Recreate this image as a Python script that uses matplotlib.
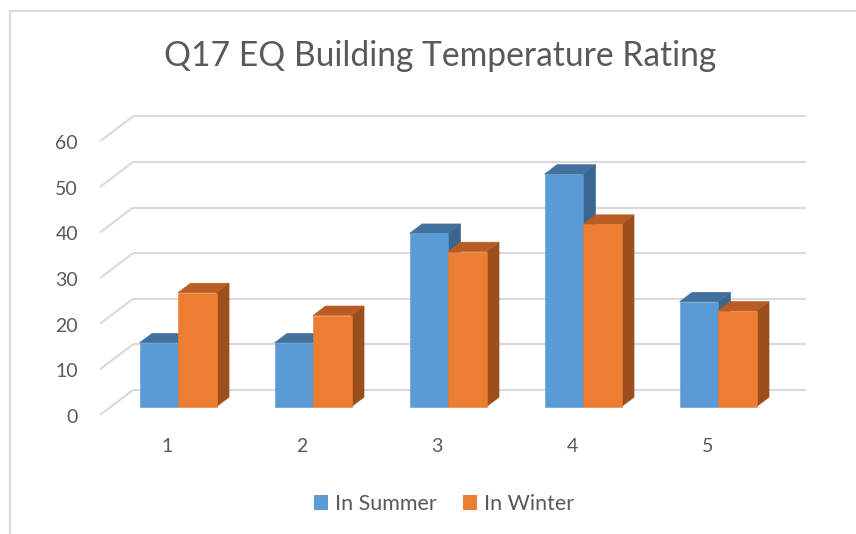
import matplotlib
matplotlib.use("Agg")
import matplotlib.pyplot as plt
from matplotlib.patches import Polygon, Patch
from matplotlib.lines import Line2D

# ---- data ----
categories = ["1", "2", "3", "4", "5"]
summer = [14, 14, 38, 51, 23]
winter = [25, 20, 34, 40, 21]
series_names = ["In Summer", "In Winter"]
y_ticks = [0, 10, 20, 30, 40, 50, 60]
title = "Q17 EQ Building Temperature Rating"

# ---- style ----
plt.rcParams['font.family'] = ['Lato', 'DejaVu Sans']
TXT = "#595959"
GRID = "#d9d9d9"
BLUE = ("#5b9bd5", "#41719c", "#3a6690")     # front, top, side
ORANGE = ("#ed7d31", "#b85c23", "#9a4f1d")

W, H = 856, 534
fig = plt.figure(figsize=(W / 100, H / 100), dpi=100)
ax = fig.add_axes([0, 0, 1, 1])
ax.axis('off')

# pixel layout of the pseudo-3D plot (bar plane)
CX0, CPX = 178.0, 135.0       # px of category 1 centre, px per category
VY0, VPX = 406.7, 4.56        # px of value 0 (bar plane), px per value unit


def px2c(x):
    return (x - CX0) / CPX + 1


def px2v(y):
    return (VY0 - y) / VPX


ax.set_xlim(px2c(0), px2c(W))
ax.set_ylim(px2v(H), px2v(0))

# depth vector (front to back) in data units
DX = 33.0 / CPX
DY = 25.0 / VPX
FRONT, BACK = -0.33, 0.67     # plane offsets relative to bar plane
BAR_D = 0.38                  # bar depth fraction
BW = 38.5 / CPX               # bar width

left_front = px2c(100)
right_back = px2c(806)

# gridlines: diagonal side wall line + back wall line
for v in y_ticks:
    x0, y0 = left_front, v + FRONT * DY
    x1, y1 = left_front + DX, v + BACK * DY
    ax.plot([x0, x1], [y0, y1], color=GRID, lw=1.5, solid_capstyle='butt', zorder=1)
    ax.plot([x1, right_back], [y1, y1], color=GRID, lw=1.5, solid_capstyle='butt', zorder=1)
    ax.text(px2c(78), v + FRONT * DY - 0.5, str(v), ha='right', va='center',
            fontsize=14, color=TXT)


def bar3d(x_left, h, cols, z):
    ddx, ddy = BAR_D * DX, BAR_D * DY
    front = [(x_left, 0), (x_left + BW, 0), (x_left + BW, h), (x_left, h)]
    top = [(x_left, h), (x_left + BW, h), (x_left + BW + ddx, h + ddy), (x_left + ddx, h + ddy)]
    side = [(x_left + BW, 0), (x_left + BW + ddx, ddy), (x_left + BW + ddx, h + ddy), (x_left + BW, h)]
    for pts, c in ((side, cols[2]), (top, cols[1]), (front, cols[0])):
        ax.add_patch(Polygon(pts, closed=True, facecolor=c, edgecolor=c, lw=0.4, zorder=z))


for i, (s, w) in enumerate(zip(summer, winter)):
    c = i + 1
    bar3d(c - BW, s, BLUE, 3)
    bar3d(c, w, ORANGE, 4)
    ax.text(c + FRONT * DX, px2v(447), categories[i], ha='center', va='center',
            fontsize=14, color=TXT)

# title
fig.text(440 / W, 1 - 56 / H, title, ha='center', va='center', fontsize=24.2, color=TXT)

# legend
handles = [Patch(facecolor=BLUE[0], edgecolor='none'), Patch(facecolor=ORANGE[0], edgecolor='none')]
leg = fig.legend(handles, series_names, loc='center', bbox_to_anchor=(444 / W, 1 - 504 / H),
                 ncol=2, frameon=False, handlelength=0.65, handleheight=0.65,
                 handletextpad=0.33, columnspacing=1.2, fontsize=15.5)
for t in leg.get_texts():
    t.set_color(TXT)

# chart border (top and left visible)
fig.add_artist(Line2D([9.5 / W, 1.0], [1 - 10.5 / H, 1 - 10.5 / H], color=GRID, lw=1.5,
                      transform=fig.transFigure))
fig.add_artist(Line2D([9.5 / W, 9.5 / W], [1 - 10.5 / H, 0], color=GRID, lw=1.5,
                      transform=fig.transFigure))

fig.savefig("out.png", dpi=100)
